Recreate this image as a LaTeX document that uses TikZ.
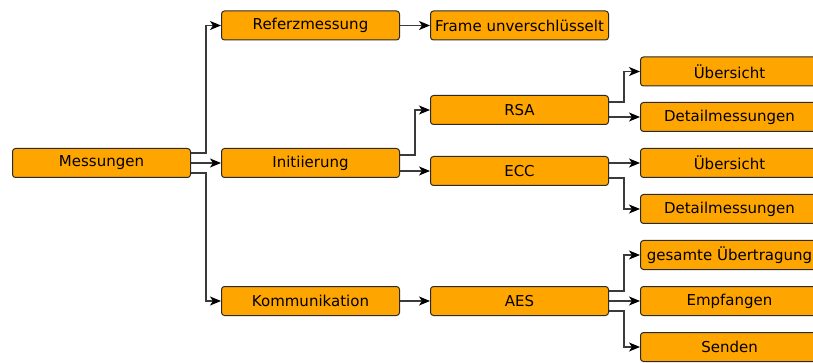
\documentclass[tikz,border=0pt]{standalone}
\usepackage{fontspec}
\setmainfont{DejaVu Sans}
\usetikzlibrary{arrows.meta}
\definecolor{boxfill}{HTML}{FFA500}
\definecolor{boxline}{HTML}{2A2A2A}
\definecolor{linkline}{HTML}{3A3A3A}
\tikzset{
  box/.style={draw=boxline, line width=1pt, fill=boxfill, rounded corners=3pt,
    minimum width=178pt, minimum height=29pt, inner sep=0pt, anchor=center,
    font=\fontsize{15}{18}\selectfont},
  conn/.style={draw=linkline, line width=1.2pt,
    -{Stealth[length=11pt,width=9pt,inset=3pt,color=black]}},
}
\begin{document}
\begin{tikzpicture}[x=1pt, y=-1pt]
\useasboundingbox (0,0) rectangle (813,363);

% first column
\node[box] (mess) at (101.5,163) {Messungen};
% second column
\node[box] (ref)  at (310.5,25.5) {Referzmessung};
\node[box] (init) at (310.5,163) {Initiierung};
\node[box] (komm) at (310.5,301) {Kommunikation};
% third column
\node[box] (frame) at (519.5,25.5) {Frame unverschlüsselt};
\node[box] (rsa)   at (519.5,110) {RSA};
\node[box] (ecc)   at (519.5,171) {ECC};
\node[box] (aes)   at (519.5,301) {AES};
% fourth column
\node[box] (ueb1) at (729.5,71.5) {Übersicht};
\node[box] (det1) at (729.5,117) {Detailmessungen};
\node[box] (ueb2) at (729.5,163) {Übersicht};
\node[box] (det2) at (729.5,209) {Detailmessungen};
\node[box] (ges)  at (729.5,255) {gesamte Übertragung};
\node[box] (emp)  at (729.5,301) {Empfangen};
\node[box] (sen)  at (729.5,347) {Senden};

% connectors
\draw[conn] ([yshift=10pt]mess.east) -- ++(15,0) |- (ref.west);
\draw[conn] (mess.east) -- (init.west);
\draw[conn] ([yshift=-10pt]mess.east) -- ++(15,0) |- (komm.west);

\draw[conn] (ref.east) -- (frame.west);
\draw[conn] ([yshift=8pt]init.east) -- ++(15,0) |- (rsa.west);
\draw[conn] ([yshift=-8pt]init.east) -- (ecc.west);
\draw[conn] (komm.east) -- (aes.west);

\draw[conn] ([yshift=8pt]rsa.east) -- ++(15,0) |- (ueb1.west);
\draw[conn] ([yshift=-7pt]rsa.east) -- (det1.west);
\draw[conn] ([yshift=8pt]ecc.east) -- (ueb2.west);
\draw[conn] ([yshift=-7pt]ecc.east) -- ++(15,0) |- (det2.west);

\draw[conn] ([yshift=10pt]aes.east) -- ++(15,0) |- (ges.west);
\draw[conn] (aes.east) -- (emp.west);
\draw[conn] ([yshift=-10pt]aes.east) -- ++(15,0) |- (sen.west);
\end{tikzpicture}
\end{document}
